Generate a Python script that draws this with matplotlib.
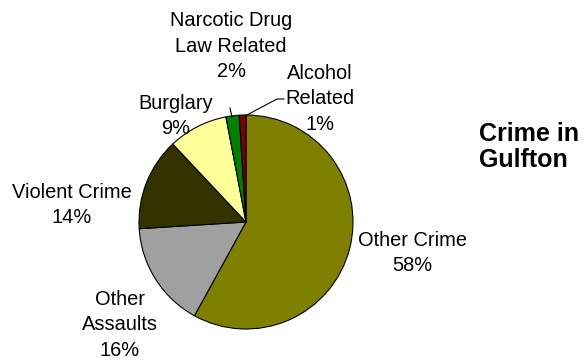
import matplotlib
matplotlib.use("Agg")
import matplotlib.pyplot as plt

categories = ["Other Crime", "Other\nAssaults", "Violent Crime", "Burglary",
              "Narcotic Drug\nLaw Related", "Alcohol\nRelated"]
percents = [58, 16, 14, 9, 2, 1]
colors = ["#808000", "#a0a0a0", "#333300", "#ffff99", "#008000", "#800000"]
title = "Crime in\nGulfton"

W, H, DPI = 587, 360, 100
plt.rcParams["font.family"] = ["Liberation Sans", "DejaVu Sans"]

fig = plt.figure(figsize=(W / DPI, H / DPI), dpi=DPI)
fig.patch.set_facecolor("white")

cx, cy, r = 246, 222, 107  # pie centre and radius in pixels
ax = fig.add_axes([(cx - r) / W, (H - cy - r) / H, 2 * r / W, 2 * r / H])
ax.pie(percents, colors=colors, startangle=90, counterclock=False,
       wedgeprops=dict(edgecolor="black", linewidth=0.8))
ax.set_xlim(-1, 1)
ax.set_ylim(-1, 1)
ax.set_aspect("equal")
ax.axis("off")


def px(x, y):
    """pixel position -> pie data coordinates"""
    return (x - cx) / r, (cy - y) / r


label_pos = [(412, 253), (120, 325), (72, 205), (176, 116), (231, 46), (320, 99)]
fs = 20 * 72 / DPI
for cat, p, (lx, ly) in zip(categories, percents, label_pos):
    x, y = px(lx, ly)
    ax.text(x, y, f"{cat}\n{p}%", ha="center", va="center", fontsize=fs,
            linespacing=1.42, color="black")

# leader lines for the two thin slices
ax.plot(*zip(px(230, 108), px(232, 117)), color="black", lw=0.8, clip_on=False)
ax.plot(*zip(px(284, 99), px(277, 99), px(245, 116)), color="black", lw=0.8,
        clip_on=False)

fig.text(479 / W, 1 - 147 / H, title, ha="left", va="center",
         fontsize=25 * 72 / DPI, fontweight="bold", linespacing=1.15)

fig.savefig("out.png", dpi=DPI)
